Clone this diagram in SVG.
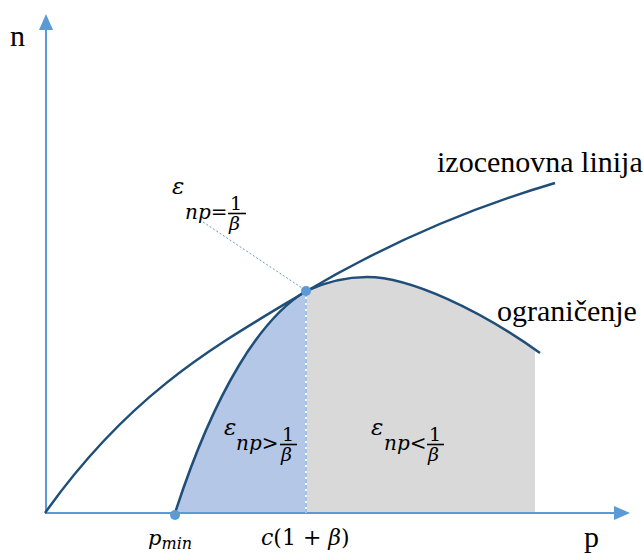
<svg xmlns="http://www.w3.org/2000/svg" width="644" height="554" viewBox="0 0 644 554">
<style>
.lbl{font-family:"Liberation Serif","Times New Roman",serif;font-size:30px;fill:#000}
.m{font-family:"DejaVu Serif","Liberation Serif",serif;font-style:italic;fill:#000}
.up{font-style:normal}
.curve{fill:none;stroke:#1f4e79;stroke-width:2.5}
.axis{stroke:#5b9bd5;stroke-width:2;fill:none}
.bar{stroke:#000;stroke-width:1.6}
</style>
<defs>
<marker id="arr" viewBox="0 0 16 14" refX="14" refY="7" markerWidth="16" markerHeight="14" markerUnits="userSpaceOnUse" orient="auto">
<path d="M0,0 L16,7 L0,14 Z" fill="#5b9bd5"/>
</marker>
</defs>
<g id="regions">
<path id="region-high" d="M175,513 C215,390 261,318 306,291 L306,513 Z" fill="#b4c7e7"/>
<path id="region-low" d="M306,291 C330,280 350,277 367,277 C410,277 478,308 535,349 L535,513 L306,513 Z" fill="#d9d9d9"/>
</g>
<g id="axes">
<line class="axis" x1="46" y1="514" x2="46" y2="16" marker-end="url(#arr)"/>
<line class="axis" x1="45" y1="513" x2="628" y2="513" marker-end="url(#arr)"/>
</g>
<g id="connectors">
<path id="izocenovna" class="curve" d="M45,513 C130,393 215,346 300,295 C385,244 470,208 555,183"/>
<path id="ogranicenje" class="curve" d="M175,513 C215,390 261,318 306,291 C330,280 350,277 367,277 C410,277 480,310 540,353"/>
<line x1="306" y1="293" x2="306" y2="513" stroke="#ffffff" stroke-width="2"/>
<line x1="306" y1="293" x2="306" y2="513" stroke="#5b9bd5" stroke-width="1.2" stroke-dasharray="4,2"/>
<line x1="203" y1="222" x2="302" y2="288" stroke="#5b9bd5" stroke-width="1" stroke-dasharray="2,2"/>
</g>
<g id="points">
<circle cx="306" cy="291" r="5" fill="#5b9bd5"/>
<circle cx="175" cy="515" r="5" fill="#5b9bd5"/>
</g>
<g id="labels">
<text class="lbl" x="10" y="46">n</text>
<text class="lbl" x="584" y="547">p</text>
<text class="lbl" x="437" y="172">izocenovna linija</text>
<text class="lbl" x="497" y="321">ograničenje</text>
<g id="eq">
<text class="m" x="172" y="194" font-size="23">ε</text>
<text class="m" x="185" y="219" font-size="20">np=</text>
<text class="m up" x="230" y="210" font-size="19">1</text>
<line class="bar" x1="228" y1="213.5" x2="246" y2="213.5"/>
<text class="m" x="229" y="230" font-size="19">β</text>
</g>
<g id="gt">
<text class="m" x="224" y="435" font-size="23">ε</text>
<text class="m" x="236" y="450" font-size="20">np&gt;</text>
<text class="m up" x="282" y="441" font-size="19">1</text>
<line class="bar" x1="280" y1="444.5" x2="297" y2="444.5"/>
<text class="m" x="281" y="461" font-size="19">β</text>
</g>
<g id="lt">
<text class="m" x="371" y="435" font-size="23">ε</text>
<text class="m" x="384" y="450" font-size="20">np&lt;</text>
<text class="m up" x="429" y="441" font-size="19">1</text>
<line class="bar" x1="427" y1="444.5" x2="444" y2="444.5"/>
<text class="m" x="428" y="461" font-size="19">β</text>
</g>
<text class="m" x="148" y="545" font-size="21">p<tspan font-size="16" dy="4">min</tspan></text>
<text class="m" x="261" y="545" font-size="22">c<tspan class="up">(1 + </tspan>β<tspan class="up">)</tspan></text>
</g>
</svg>
